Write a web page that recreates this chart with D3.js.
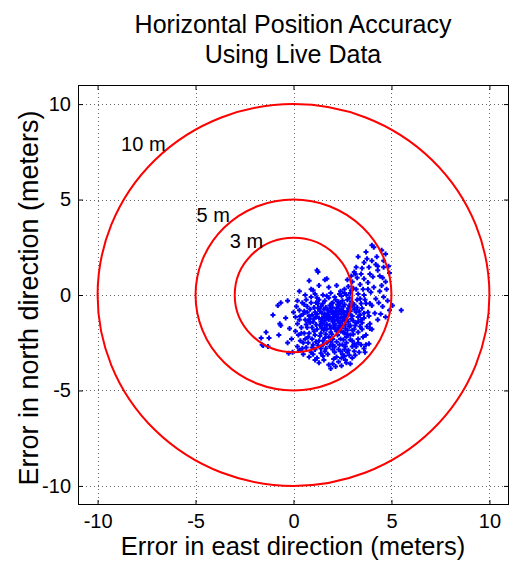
<!DOCTYPE html>
<html><head><meta charset="utf-8">
<script src="https://cdn.jsdelivr.net/npm/d3@7"></script>
<style>body{margin:0;background:#fff}svg{display:block}text{font-family:"Liberation Sans",Arial,sans-serif}</style>
</head><body><div id="chart"></div>
<script>
const titleLines = ["Horizontal Position Accuracy", "Using Live Data"];
const xLabel = "Error in east direction (meters)";
const yLabel = "Error in north direction (meters)";
const ticks = [-10, -5, 0, 5, 10];
const radii = [10, 5, 3];
const radiusLabels = ["10 m", "5 m", "3 m"];
const labelX = [-8.8, -4.95, -3.25];
const labelY = [7.55, 3.85, 2.45];

// east / north errors (m)
const pts = [
[2.2,-1.1],[2.0,-1.0],[2.4,-1.2],[1.8,-1.3],[2.6,-0.9],[2.1,-1.5],[2.5,-1.6],[1.9,-0.7],[2.3,-0.6],[2.7,-1.3],[1.6,-1.0],[1.5,-1.5],[2.8,-0.7],[3.0,-1.1],[2.9,-1.6],[1.7,-1.8],[2.2,-1.9],[2.6,-2.0],[1.4,-0.6],[1.3,-1.2],[2.0,-0.4],[2.5,-0.3],[3.1,-0.5],[3.2,-0.9],[3.3,-1.4],[1.1,-0.9],[1.0,-1.4],[1.2,-1.8],[1.8,-2.2],[2.4,-2.3],[2.9,-2.1],[3.1,-1.8],[1.6,-0.3],[2.1,-0.1],[2.7,0.0],[3.4,-0.2],[3.5,-0.7],[3.6,-1.2],[0.9,-0.4],[0.8,-1.1],[0.7,-1.7],[1.1,-2.1],[1.5,-2.4],[2.0,-2.6],[2.7,-2.5],[3.3,-2.3],[3.5,-1.8],[1.95,-1.25],[2.15,-0.85],[2.35,-1.45],[2.55,-1.15],[1.75,-1.05],[2.05,-1.7],[2.45,-0.75],[1.85,-0.55],[2.65,-1.55],[2.25,-2.1],[1.45,-1.25],[2.85,-1.0],[3.05,-1.35],[1.55,-0.75],[1.35,-1.6],[2.75,-1.85],[2.3,-0.35],[1.9,-1.95],[3.25,-0.65],[2.95,-0.35],[1.25,-0.45],[0.95,-1.7],[1.65,-2.05],[2.5,-2.6],[3.0,-2.4],[3.4,-1.05],[3.7,-0.45],[2.1,-1.3],[2.3,-0.95],[1.7,-1.55],[2.6,-0.5],[2.0,-2.3],[1.2,-1.0],[2.8,-1.4],[2.4,-1.75],[1.6,-1.35],[2.2,-0.7],[1.8,-0.9],[2.9,-0.85],[3.15,-1.6],[1.4,-2.0],[2.7,-2.2],[1.05,-1.25],[0.85,-0.75],[0.6,-1.3],[0.55,-0.5],[1.5,0.0],[1.9,0.1],[2.4,0.2],[2.9,0.1],[3.2,0.3],[3.6,0.0],[3.8,-0.9],[3.9,-1.5],[3.7,-2.1],[3.45,-2.6],[0.75,-2.2],[1.0,-2.6],[1.4,-2.8],[1.85,-2.7],[2.3,-2.85],[2.8,-2.9],[3.2,-2.7],
[4.0,2.6],[4.1,2.5],[4.5,2.35],[4.7,2.15],[3.3,2.0],[3.7,2.25],[4.6,1.8],[4.2,1.6],[4.3,1.5],[3.2,1.45],[3.5,1.4],[4.3,1.3],[4.9,1.15],[3.1,1.2],[3.15,1.1],[4.5,0.5],[3.9,1.1],[4.05,0.95],[3.6,0.85],[3.8,0.65],[4.1,0.4],[4.4,0.2],[4.6,-0.1],[4.35,-0.4],[3.4,0.55],[3.0,0.7],[2.8,0.45],[3.25,0.9],[3.55,0.3],[3.95,0.15],[4.2,-0.2],[2.6,0.3],[2.2,0.5],[4.0,1.8],[3.6,1.7],[3.85,1.45],[4.4,1.0],[4.7,0.7],[2.95,1.0],[3.45,1.1],[3.75,1.9],[4.25,2.0],[4.6,1.45],[3.05,0.35],[3.65,-0.25],[4.0,-0.55],[4.15,-0.95],[4.55,-0.6],[2.75,0.8],[3.3,0.05],
[5.5,-0.8],[5.05,-0.55],[4.9,-0.8],[4.3,-1.3],[4.0,-1.8],[3.9,-1.75],[3.85,-2.55],[3.7,-2.6],[3.6,-2.8],[3.65,-3.0],
[4.75,0.3],[4.8,-0.3],[4.55,0.9],[4.85,1.5],[4.45,-1.0],[4.7,-1.15],
[1.2,1.3],[1.25,1.2],[1.6,0.8],[1.7,0.85],[0.8,0.75],[0.3,0.2],[0.9,0.3],[1.0,0.25],[1.3,0.5],[1.1,0.05],[0.6,0.0],[1.8,0.4],
[-0.3,-0.3],[-0.65,-0.4],[-0.8,-0.55],[-1.05,-1.05],[-0.7,-1.5],[-0.65,-1.6],[-1.4,-1.95],[-1.65,-2.25],[-1.25,-2.25],[-0.75,-2.1],[-1.6,-2.6],[-1.55,-2.65],[-1.3,-2.7],[0.1,-1.15],[-0.2,-1.75],[0.3,-0.8],[0.0,-0.9],[-0.4,-1.2],[0.2,-1.5],[0.4,-2.0],[-0.1,-2.3],[0.5,-2.5],[0.2,-2.7],[-0.3,-2.5],[0.35,-1.1],[0.45,-0.4],
[0.3,-1.3],[0.5,-1.0],[0.4,-1.7],[0.55,-2.0],[0.25,-2.1],[0.7,-0.6],[0.9,-0.1],[0.75,-2.5],[0.45,-2.8],[0.95,-2.3],[1.15,-2.45],[1.2,-0.15],[0.65,-0.25],[0.15,-0.6],[0.1,-1.9],[0.35,-2.4],[0.85,-1.25],[0.75,-1.35],[1.15,-1.15],[1.35,-0.85],[1.45,-1.75],[1.25,-2.65],[0.55,-0.85],[0.95,-2.75],[0.2,-0.3],
[-0.05,-3.0],[-0.25,-3.05],[0.3,-2.9],[0.5,-3.1],[0.8,-3.25],[1.0,-3.1],[1.2,-3.3],[1.5,-3.2],[1.8,-3.65],[2.0,-3.6],[2.3,-3.5],[2.65,-3.4],[3.0,-3.3],[3.15,-3.15],[2.5,-3.1],[2.1,-3.0],[1.6,-2.95],[2.75,-3.0],[1.3,-3.55],[1.9,-3.85],[2.2,-3.25],[0.65,-2.75],[1.1,-2.85],[3.35,-3.0],[2.9,-3.6],
[1.55,-3.4],[1.75,-3.1],[2.05,-3.35],[2.45,-3.7],[2.6,-3.2],[2.85,-3.15],[3.1,-2.95],[1.4,-3.05],[1.65,-2.8],[2.0,-2.85],[2.4,-2.95],[2.6,-2.85],[3.0,-2.7],[2.15,-3.75],[1.1,-3.4],[0.9,-3.0],[3.3,-2.5],[2.9,-2.35],[2.45,-3.3],[2.7,-3.55],
[1.45,-0.95],[1.65,-0.65],[1.95,-0.45],[2.15,-0.25],[2.45,-0.05],[2.75,-0.25],[2.85,-0.55],[3.1,-0.75],[3.3,-1.15],[3.2,-1.45],[3.0,-1.85],[2.75,-2.05],[2.55,-2.35],[2.2,-2.45],[1.9,-2.45],[1.6,-2.25],[1.35,-2.15],[1.15,-1.55],[1.05,-0.65],[1.3,-0.25],[1.8,-0.15],[2.35,0.05],[2.05,-1.15],[2.25,-1.35],[2.45,-1.0],[2.05,-0.9],[2.35,-1.6],[2.65,-1.75],[2.15,-1.8],[1.85,-1.6],[1.6,-1.7],[1.4,-1.4],[1.55,-1.15],[1.75,-0.8],[2.0,-0.65],[2.25,-0.5],[2.55,-0.6],[2.75,-0.85],[2.95,-1.25],[2.7,-1.05],[2.5,-1.35],[2.3,-1.2],[2.0,-1.4],[1.85,-1.15],[2.1,-1.6],[2.4,-1.9],[2.85,-1.65],[3.05,-2.05],[3.3,-1.95],[3.5,-1.45],[3.6,-0.95],[3.45,-0.45],[3.25,-0.25],[2.95,0.25],[2.6,0.1],[1.7,-0.05],[1.25,-0.7],[0.95,-1.05],[0.85,-1.45],[1.05,-1.9],[1.3,-2.4],[1.7,-2.5],[2.35,-2.6],[2.65,-2.7],[3.1,-2.55],[3.55,-2.2],[3.75,-1.65],[3.85,-1.1],[3.9,-0.45],[3.8,0.3],[0.7,-0.9],[0.65,-1.55],[0.8,-2.0],[0.6,-2.3],[1.55,-1.85],[1.95,-2.05],[2.55,-1.95],[2.2,-1.0],[2.35,-0.8],[1.95,-0.85],
[1.9,-1.75],[2.3,-1.7],[2.6,-1.3],[1.7,-1.2],[2.5,-0.85],[3.0,-0.55],[2.85,-0.15],[3.35,-0.85],[3.45,-1.3],[3.4,-1.65],[1.5,-0.45],[1.15,-0.4],[2.4,-0.45],[2.1,-2.7],[1.5,-2.6]
];
const east = pts.map(p => p[0]);
const north = pts.map(p => p[1]);

const W = 510, H = 562;
const L = 78, R = 509, T = 85, B = 505;
const svg = d3.select("#chart").append("svg").attr("width", W).attr("height", H);
const x = d3.scaleLinear().domain([-11, 11]).range([L, R]);
const y = d3.scaleLinear().domain([-11, 11]).range([B, T]);

// grid
const grid = svg.append("g").attr("stroke", "#666").attr("stroke-width", 1).attr("stroke-dasharray", "1,3");
ticks.forEach(t => {
  grid.append("line").attr("x1", Math.round(x(t)) + 0.5).attr("x2", Math.round(x(t)) + 0.5).attr("y1", T).attr("y2", B);
  grid.append("line").attr("y1", Math.round(y(t)) + 0.5).attr("y2", Math.round(y(t)) + 0.5).attr("x1", L).attr("x2", R);
});

// axes
const fmt = d => d3.format("d")(d).replace("−", "-");
const axB = svg.append("g").attr("transform", `translate(0,${B})`)
  .call(d3.axisBottom(x).tickValues(ticks).tickSizeInner(-5).tickSizeOuter(0).tickPadding(9).tickFormat(fmt));
const axT = svg.append("g").attr("transform", `translate(0,${T})`)
  .call(d3.axisTop(x).tickValues(ticks).tickSizeInner(-5).tickSizeOuter(0).tickFormat(""));
const axL = svg.append("g").attr("transform", `translate(${L},0)`)
  .call(d3.axisLeft(y).tickValues(ticks).tickSizeInner(-5).tickSizeOuter(0).tickPadding(7).tickFormat(fmt));
const axR = svg.append("g").attr("transform", `translate(${R},0)`)
  .call(d3.axisRight(y).tickValues(ticks).tickSizeInner(-5).tickSizeOuter(0).tickFormat(""));
[axB, axT, axL, axR].forEach(g => {
  g.select(".domain").remove();
  g.selectAll("line").attr("stroke", "#000");
  g.selectAll("text").attr("font-size", 20).attr("fill", "#000").style("font-family", '"Liberation Sans",Arial,sans-serif');
});
svg.append("rect").attr("x", L + 0.5).attr("y", T + 0.5).attr("width", R - L - 1).attr("height", B - T - 1)
  .attr("fill", "none").attr("stroke", "#000").attr("stroke-width", 1);

// points
svg.append("g").selectAll("path").data(east).join("path")
  .attr("transform", (d, i) => `translate(${x(d)},${y(north[i])})`)
  .attr("d", "M-1,-2.5H1V-1H2.5V1H1V2.5H-1V1H-2.5V-1H-1Z")
  .attr("fill", "#0000ff");

// circles
svg.append("g").selectAll("ellipse").data(radii).join("ellipse")
  .attr("cx", x(0)).attr("cy", y(0))
  .attr("rx", r => x(r) - x(0)).attr("ry", r => y(0) - y(r))
  .attr("fill", "none").attr("stroke", "#ff0000").attr("stroke-width", 2);

// circle labels
svg.append("g").selectAll("text").data(radiusLabels).join("text")
  .attr("x", (d, i) => x(labelX[i])).attr("y", (d, i) => y(labelY[i]))
  .attr("font-size", 20).text(d => d);

// title
svg.append("g").selectAll("text").data(titleLines).join("text")
  .attr("x", 293).attr("y", (d, i) => 33 + i * 30).attr("text-anchor", "middle")
  .attr("font-size", 25).text(d => d);

svg.append("text").attr("x", 293).attr("y", 555).attr("text-anchor", "middle").attr("font-size", 25.5).text(xLabel);
svg.append("text").attr("transform", `translate(38,${(T + B) / 2 + 3}) rotate(-90)`).attr("text-anchor", "middle")
  .attr("font-size", 27).text(yLabel);
</script></body></html>
